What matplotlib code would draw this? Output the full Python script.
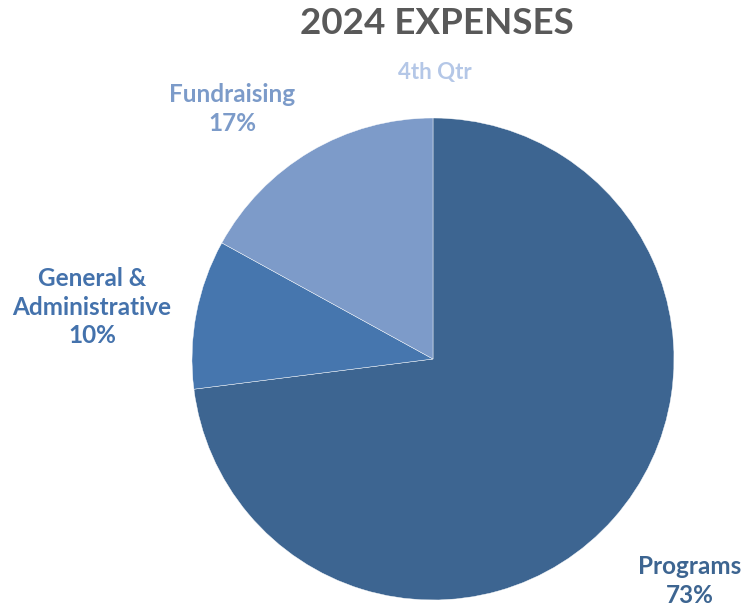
import matplotlib
matplotlib.use('Agg')
import matplotlib.pyplot as plt

# data
categories = ['Programs', 'General &\nAdministrative', 'Fundraising']
shares = [73, 10, 17]
colors = ['#3D6591', '#4676AE', '#7D9BC9']
label_colors = ['#3D6591', '#4472AC', '#7C9BC9']

title = '2024 EXPENSES'
subtitle = '4th Qtr'

plt.rcParams['font.family'] = ['Lato', 'DejaVu Sans']

W, H = 744, 609
fig = plt.figure(figsize=(W / 100, H / 100), dpi=100)

# pie centre about (433, 359) px, radius 241 px
cx, cy, r = 433, 359, 241
ax = fig.add_axes([(cx - r) / W, (H - cy - r) / H, 2 * r / W, 2 * r / H])
ax.pie(shares, colors=colors, startangle=90, counterclock=False,
       wedgeprops=dict(edgecolor='#ffffff', linewidth=0.3))
ax.set_xlim(-1, 1)
ax.set_ylim(-1, 1)
ax.set_aspect('equal')
ax.axis('off')

def px(x, y):
    return x / W, 1 - y / H

fig.text(*px(437, 23), title, ha='center', va='center', fontsize=26.5,
         fontweight='bold', color='#595959')
fig.text(*px(435, 72), subtitle, ha='center', va='center', fontsize=16,
         fontweight='bold', color='#B4C7E7')

label_pos = [(690, 581), (92, 307), (232, 109)]
for cat, val, c, (x, y) in zip(categories, shares, label_colors, label_pos):
    fig.text(*px(x, y), f'{cat}\n{val}%', ha='center', va='center',
             fontsize=17.5, fontweight='bold', color=c, linespacing=1.3)

fig.savefig('out.png', dpi=100)
